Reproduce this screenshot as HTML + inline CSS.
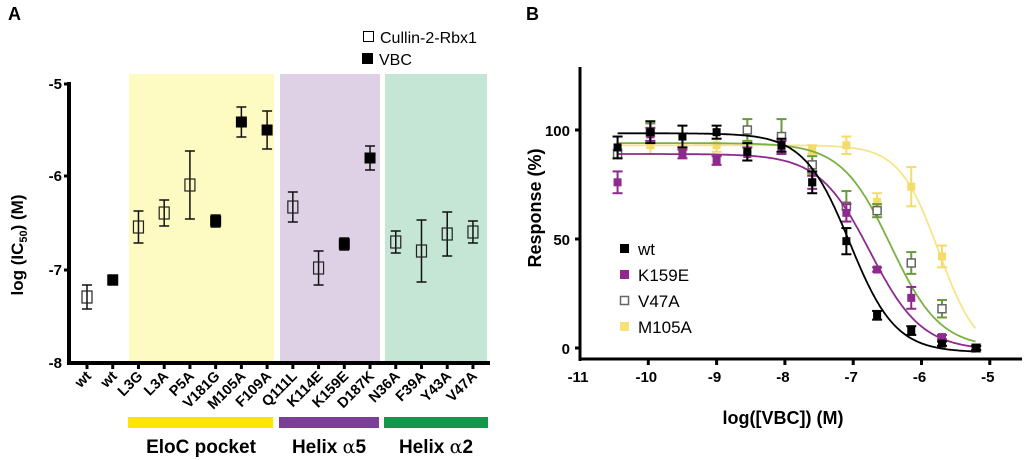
<!DOCTYPE html>
<html><head><meta charset="utf-8"><style>
html,body{margin:0;padding:0;background:#fff;}
svg{display:block;font-family:"Liberation Sans",Arial,sans-serif;}
</style></head><body>
<svg id="s" width="1024" height="460" viewBox="0 0 1024 460" xmlns="http://www.w3.org/2000/svg">
<text x="8" y="20" font-size="18" font-weight="bold">A</text>
<text x="526" y="20" font-size="18" font-weight="bold">B</text>
<rect x="129" y="74" width="145" height="288" fill="#fdfac2"/>
<rect x="280" y="74" width="100" height="288" fill="#ded1e6"/>
<rect x="385" y="74" width="102" height="288" fill="#c5e5d5"/>
<rect x="363.5" y="31.5" width="10" height="10" fill="#fff" stroke="#000" stroke-width="1"/>
<text x="380" y="43" font-size="16">Cullin-2-Rbx1</text>
<rect x="362" y="53" width="11" height="11" fill="#000"/>
<text x="379" y="65" font-size="16">VBC</text>
<line x1="69" y1="82" x2="69" y2="364" stroke="#000" stroke-width="4"/>
<line x1="67" y1="363" x2="490" y2="363" stroke="#000" stroke-width="4"/>
<g font-size="15" font-weight="bold" text-anchor="end">
<text x="62" y="89">-5</text><text x="62" y="181">-6</text><text x="62" y="275">-7</text><text x="62" y="368">-8</text>
</g>
<g stroke="#000" stroke-width="3">
<line x1="64" y1="84" x2="69" y2="84"/><line x1="64" y1="176" x2="69" y2="176"/><line x1="64" y1="270" x2="69" y2="270"/>
</g>
<text transform="translate(23,245) rotate(-90)" font-size="17" font-weight="bold" text-anchor="middle">log (IC<tspan font-size="11" dy="4">50</tspan><tspan dy="-4">) (M)</tspan></text>
<g id="ga"></g>
<rect x="128" y="417" width="145" height="11" fill="#ffe600"/>
<rect x="279" y="417" width="100" height="11" fill="#7b3f97"/>
<rect x="384" y="417" width="104" height="11" fill="#15964a"/>
<g font-size="19" font-weight="bold" text-anchor="middle">
<text x="201" y="453">EloC pocket</text>
<text x="329" y="453">Helix <tspan font-family="DejaVu Serif,serif" font-weight="normal">α</tspan>5</text>
<text x="436" y="453">Helix <tspan font-family="DejaVu Serif,serif" font-weight="normal">α</tspan>2</text>
</g>
<line x1="580" y1="67" x2="580" y2="361" stroke="#000" stroke-width="3"/>
<line x1="579" y1="359" x2="1022" y2="359" stroke="#000" stroke-width="3"/>
<g font-size="15" font-weight="bold" text-anchor="end">
<text x="570" y="136">100</text><text x="570" y="245">50</text><text x="570" y="354">0</text>
</g>
<g stroke="#000" stroke-width="3">
<line x1="575" y1="130" x2="580" y2="130"/><line x1="575" y1="239" x2="580" y2="239"/><line x1="575" y1="348" x2="580" y2="348"/>
</g>
<text transform="translate(541,208) rotate(-90)" font-size="18" font-weight="bold" text-anchor="middle">Response (%)</text>
<text x="783" y="424" font-size="18" font-weight="bold" text-anchor="middle">log([VBC]) (M)</text>
<g id="gb"></g>
<rect x="620" y="244" width="9" height="9" fill="#000"/>
<text x="638" y="255" font-size="17">wt</text>
<rect x="620" y="270" width="9" height="9" fill="#8e2a8e"/>
<text x="638" y="281" font-size="17">K159E</text>
<rect x="620.5" y="296.5" width="8" height="8" fill="#fff" stroke="#666" stroke-width="1.5"/>
<text x="638" y="307" font-size="17">V47A</text>
<rect x="620" y="322" width="9" height="9" fill="#f7e27a"/>
<text x="638" y="333" font-size="17">M105A</text>
</svg>
<script>
var NS="http://www.w3.org/2000/svg";
function el(p,t,a){var e=document.createElementNS(NS,t);for(var k in a)e.setAttribute(k,a[k]);p.appendChild(e);return e;}
var ga=document.getElementById('ga');
var labels=["wt","wt","L3G","L3A","P5A","V181G","M105A","F109A","Q111L","K114E","K159E","D187K","N36A","F39A","Y43A","V47A"];
var ys=[297,280,227,213,185,221,122,130,207,268,244,158,242,251,234,232];
var er=[12,5,16,13,34,6,15,19,15,17,6,12,11,31,22,11];
var filled=[0,1,0,0,0,1,1,1,0,0,1,1,0,0,0,0];
for(var i=0;i<16;i++){
 var x=87+i*25.73;
 el(ga,'line',{x1:x,y1:363,x2:x,y2:369,stroke:'#000','stroke-width':3});
 var t=el(ga,'text',{x:0,y:0,'font-size':14.5,'font-weight':'bold','text-anchor':'end',transform:'translate('+(x+5)+',377) rotate(-45)'});t.textContent=labels[i];
 var y=ys[i],e=er[i];
 el(ga,'line',{x1:x,y1:y-e,x2:x,y2:y+e,stroke:'#111','stroke-width':1.5});
 el(ga,'line',{x1:x-5,y1:y-e,x2:x+5,y2:y-e,stroke:'#111','stroke-width':1.5});
 el(ga,'line',{x1:x-5,y1:y+e,x2:x+5,y2:y+e,stroke:'#111','stroke-width':1.5});
 if(filled[i])el(ga,'rect',{x:x-5.5,y:y-5.5,width:11,height:11,fill:'#000'});
 else el(ga,'rect',{x:x-5,y:y-6,width:10,height:12,fill:'none',stroke:'#222','stroke-width':1.2});
}
var gb=document.getElementById('gb');
function X(v){return 580+(v+11)*68.3;}function Y(v){return 348-v*2.18;}
for(var k=-11;k<=-5;k++){
 if(k>-11)el(gb,'line',{x1:X(k),y1:359,x2:X(k),y2:365,stroke:'#000','stroke-width':3});
 var t=el(gb,'text',{x:X(k)-2,y:382,'font-size':15,'font-weight':'bold','text-anchor':'middle'});t.textContent=k;
}
var xs=[-10.45,-9.97,-9.5,-9.0,-8.55,-8.05,-7.6,-7.1,-6.65,-6.15,-5.7,-5.2];
var series=[
 {c:'#f5dc6a',lc:'#f7e58a',top:93,bot:-4,x50:-5.75,h:1.5,d:[null,93,90,93,null,null,91,93,67,74,42,0],e:[0,4,3,3,0,0,2,4,4,9,5,1],f:1},
 {c:'#6a9b3a',lc:'#7bb045',top:94,bot:0,x50:-6.45,h:1.2,d:[89,99,null,null,100,97,84,65,63,39,18,0],e:[2,4,0,0,5,8,4,7,3,5,4,1],f:0},
 {c:'#8e2a8e',lc:'#8e2a8e',top:89,bot:-1,x50:-6.75,h:1.15,d:[76,98,89,86,89,92,76,62,36,23,5,0],e:[5,3,2,2,3,3,3,4,1,5,1,1],f:1},
 {c:'#000',lc:'#000',top:98.5,bot:-2,x50:-7.05,h:1.3,d:[92,99,97,99,90,93,76,49,15,8,2,0],e:[5,5,5,3,4,3,5,6,2,2,1,1],f:1}
];
series.forEach(function(s){
 var p='';
 for(var v=-10.45;v<=-5.2001;v+=0.02){var r=s.bot+(s.top-s.bot)/(1+Math.pow(10,(v-s.x50)*s.h));p+=(p?'L':'M')+X(v).toFixed(1)+','+Y(r).toFixed(1);}
 el(gb,'path',{d:p,fill:'none',stroke:s.lc,'stroke-width':1.8});
 for(var i=0;i<12;i++){var d=s.d[i];if(d===null)continue;var x=X(xs[i]),y=Y(d),e=s.e[i]*2.18;
  if(e>0){el(gb,'line',{x1:x,y1:y-e,x2:x,y2:y+e,stroke:s.c,'stroke-width':2});
   el(gb,'line',{x1:x-5,y1:y-e,x2:x+5,y2:y-e,stroke:s.c,'stroke-width':2});
   el(gb,'line',{x1:x-5,y1:y+e,x2:x+5,y2:y+e,stroke:s.c,'stroke-width':2});}
  if(s.f)el(gb,'rect',{x:x-4,y:y-4,width:8,height:8,fill:s.c});
  else el(gb,'rect',{x:x-4,y:y-4,width:8,height:8,fill:'#fff',stroke:'#666','stroke-width':1.5});
 }
});
</script>
</body></html>
